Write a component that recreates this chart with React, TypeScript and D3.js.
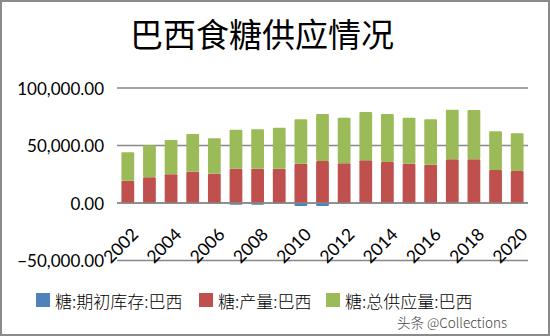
import React from "react";
import * as d3 from "d3";

const years = [
  "2002", "2003", "2004", "2005", "2006", "2007", "2008", "2009", "2010", "2011",
  "2012", "2013", "2014", "2015", "2016", "2017", "2018", "2019", "2020",
];
const openingStocks = [
  -500, -500, -500, -500, -500, -1500, -1500, -500, -2500, -2500,
  -400, -300, -300, -400, -400, -300, -300, -400, -300,
];
const production = [
  19390, 22350, 24960, 27220, 25480, 29830, 29830, 29830, 34170, 36520,
  34520, 37130, 35650, 34170, 33300, 38000, 38000, 28700, 27830,
];
const totalSupply = [
  24700, 27820, 29820, 32780, 30780, 33910, 34260, 35650, 38610, 40870,
  39650, 42000, 41740, 40000, 39480, 43130, 42870, 33650, 32780,
];
const yTicks = [100000, 50000, 0, -50000];
const xTickLabels = ["2002", "2004", "2006", "2008", "2010", "2012", "2014", "2016", "2018", "2020"];
const seriesNames = ["糖:期初库存:巴西", "糖:产量:巴西", "糖:总供应量:巴西"];
const colors = ["#4F81BD", "#C0504D", "#9BBB59"];

const W = 550;
const H = 336;
const left = 117;
const right = 528;

export default function App() {
  const x = d3.scaleBand<string>().domain(years).range([left, right]).paddingInner(0.41).paddingOuter(0.205);
  const y = d3.scaleLinear().domain([-50000, 100000]).range([260.5, 88]);
  const fmt = d3.format(",.2f");
  const numFont = "Lato, 'Open Sans', sans-serif";
  const cjk = "'Noto Sans CJK SC', sans-serif";

  const bars: React.ReactNode[] = [];
  years.forEach((yr, i) => {
    const bx = x(yr)!;
    const bw = x.bandwidth();
    const neg = openingStocks[i];
    bars.push(
      <rect key={"b" + yr} x={bx} width={bw} y={y(Math.max(0, neg))} height={Math.abs(y(neg) - y(0))} fill={colors[0]} rx={1} />
    );
    const p = production[i];
    bars.push(<rect key={"r" + yr} x={bx} width={bw} y={y(p)} height={y(0) - y(p)} fill={colors[1]} rx={1} />);
    const t = totalSupply[i];
    bars.push(<rect key={"g" + yr} x={bx} width={bw} y={y(p + t)} height={y(p) - y(p + t)} fill={colors[2]} rx={1} />);
  });

  const legendX = [36, 199, 326];

  return (
    <svg width={W} height={H} style={{ position: "absolute", left: 0, top: 0 }}>
      <rect x={0} y={0} width={W} height={H} fill="#fff" />
      <rect x={1} y={1} width={W - 2} height={H - 2} fill="none" stroke="#8a8a8a" strokeWidth={2} />
      <text x={262} y={38} textAnchor="middle" dominantBaseline="middle" fontFamily={cjk} fontSize={33} fill="#000">
        巴西食糖供应情况
      </text>
      {yTicks.map((t) => (
        <g key={t}>
          <line x1={left} x2={right} y1={y(t)} y2={y(t)} stroke="#888" strokeWidth={1.3} />
          <text x={104} y={y(t)} textAnchor="end" dominantBaseline="central" fontFamily={numFont} fontSize={17} fill="#000">
            {fmt(t)}
          </text>
        </g>
      ))}
      {bars}
      <line x1={left} x2={right} y1={y(0)} y2={y(0)} stroke="#888" strokeWidth={1.3} />
      {xTickLabels.map((l) => {
        const cx = x(l)! + x.bandwidth() / 2 + 2;
        return (
          <text
            key={l}
            transform={`translate(${cx},${226}) rotate(-45)`}
            textAnchor="end"
            dominantBaseline="hanging"
            fontFamily={numFont}
            fontSize={17.5}
            fill="#000"
          >
            {l}
          </text>
        );
      })}
      {seriesNames.map((n, i) => (
        <g key={n}>
          <rect x={legendX[i]} y={293} width={14} height={14} fill={colors[i]} />
          <text x={legendX[i] + 19} y={300} dominantBaseline="central" fontFamily={cjk} fontSize={17} fontWeight={300} fill="#000">
            {n}
          </text>
        </g>
      ))}
      <text x={397} y={322} dominantBaseline="central" fontFamily={cjk} fontSize={13.5} fontWeight={300} fill="#444">
        头条 @Collections
      </text>
    </svg>
  );
}
